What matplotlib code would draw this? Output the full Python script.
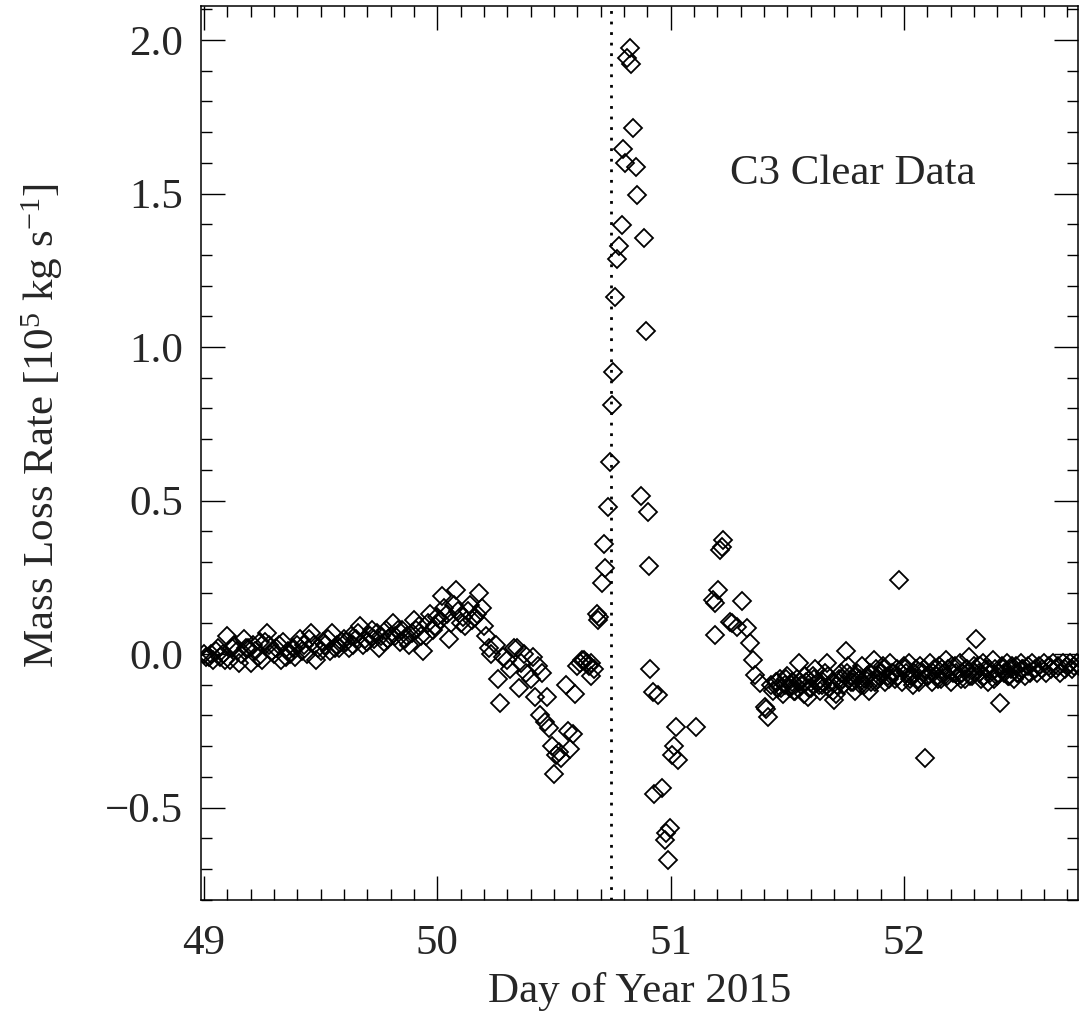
import matplotlib
matplotlib.use("Agg")
import matplotlib.pyplot as plt
from matplotlib.ticker import MultipleLocator

plt.rcParams['font.family'] = ['Liberation Serif', 'DejaVu Serif']
plt.rcParams['mathtext.fontset'] = 'custom'
plt.rcParams['mathtext.rm'] = 'Liberation Serif'
plt.rcParams['mathtext.it'] = 'Liberation Serif'

# ---- data (Day of Year 2015, mass loss rate in 1e5 kg/s) ----
day_pre = [49.00, 49.01, 49.03, 49.04, 49.05, 49.07, 49.08, 49.10, 49.11, 49.12,
           49.14, 49.15, 49.17, 49.18, 49.20, 49.21, 49.22, 49.24, 49.25, 49.27,
           49.28, 49.30, 49.31, 49.33, 49.34, 49.36, 49.37, 49.39, 49.40, 49.42,
           49.43, 49.45, 49.46, 49.48, 49.49, 49.51, 49.52, 49.54, 49.55, 49.57,
           49.58, 49.60, 49.61, 49.63, 49.64, 49.66, 49.67, 49.69, 49.70, 49.72,
           49.73, 49.75, 49.76, 49.78, 49.79, 49.81, 49.82, 49.84, 49.85, 49.87,
           49.88, 49.90, 49.91, 49.93, 49.94, 49.96, 49.97, 49.99, 50.00, 50.02,
           50.03, 50.05, 50.06, 50.08, 50.09, 50.11, 50.12, 50.14, 50.15, 50.17,
           50.18, 50.20]
rate_pre = [0.00, -0.01, 0.00, -0.02, 0.01, -0.01, 0.00, 0.06, -0.02, 0.02,
            0.01, -0.03, 0.05, 0.02, -0.03, 0.03, 0.01, 0.04, -0.02, 0.07,
            0.03, 0.00, 0.02, -0.02, 0.04, 0.01, 0.00, -0.01, 0.03, 0.01,
            0.03, 0.05, 0.07, -0.02, 0.02, 0.04, 0.03, 0.01, 0.07, 0.03,
            0.02, 0.05, 0.04, 0.06, 0.03, 0.07, 0.09, 0.05, 0.04, 0.08,
            0.05, 0.02, 0.06, 0.08, 0.05, 0.10, 0.06, 0.04, 0.08, 0.06,
            0.03, 0.11, 0.08, 0.06, 0.01, 0.10, 0.13, 0.09, 0.12, 0.19,
            0.15, 0.05, 0.10, 0.21, 0.14, 0.12, 0.09, 0.16, 0.11, 0.13,
            0.20, 0.09]

day_pre2 = [49.02, 49.06, 49.09, 49.13, 49.16, 49.19, 49.23, 49.26, 49.29, 49.32,
            49.35, 49.38, 49.41, 49.44, 49.47, 49.50, 49.53, 49.56, 49.59, 49.62,
            49.65, 49.68, 49.71, 49.74, 49.77, 49.80, 49.83, 49.86, 49.89, 49.92,
            49.95, 49.98, 50.01, 50.04, 50.07, 50.10, 50.13, 50.16, 50.19]
rate_pre2 = [-0.01, 0.02, -0.02, 0.03, 0.00, 0.02, -0.01, 0.04, 0.01, 0.03,
             -0.01, 0.02, 0.05, 0.00, 0.03, 0.01, 0.05, 0.02, 0.04, 0.02,
             0.05, 0.03, 0.06, 0.07, 0.04, 0.06, 0.08, 0.05, 0.07, 0.09,
             0.06, 0.08, 0.11, 0.13, 0.16, 0.10, 0.14, 0.12, 0.15]

day_dip = [50.21, 50.22, 50.23, 50.25, 50.26, 50.27, 50.28, 50.30, 50.31, 50.33,
           50.34, 50.35, 50.36, 50.37, 50.38, 50.40, 50.41, 50.42, 50.43, 50.44,
           50.45, 50.46, 50.47, 50.48, 50.49, 50.50, 50.51, 50.52, 50.53, 50.55,
           50.56, 50.57, 50.58, 50.59, 50.60, 50.61, 50.62, 50.63, 50.64, 50.65,
           50.66, 50.67, 50.66]
rate_dip = [0.06, 0.02, 0.00, 0.03, -0.08, -0.16, -0.01, -0.02, -0.05, 0.02,
            0.02, -0.11, -0.03, 0.00, -0.06, -0.08, -0.01, -0.14, -0.04, -0.20,
            -0.06, -0.22, -0.14, -0.24, -0.30, -0.39, -0.33, -0.32, -0.34, -0.10,
            -0.25, -0.31, -0.26, -0.13, -0.04, -0.03, -0.02, -0.02, -0.03, -0.04,
            -0.03, -0.05, -0.07]

day_spike = [50.683, 50.690, 50.695, 50.705, 50.714, 50.720, 50.733, 50.740, 50.747, 50.754,
             50.761, 50.771, 50.780, 50.790, 50.797, 50.804, 50.812, 50.826, 50.829, 50.837,
             50.852, 50.857, 50.872, 50.887, 50.895, 50.902, 50.907, 50.912, 50.923, 50.930,
             50.947, 50.962, 50.976, 50.980, 50.990, 50.997, 51.004, 51.016, 51.023, 51.033,
             51.109]
rate_spike = [0.13, 0.11, 0.12, 0.23, 0.36, 0.28, 0.48, 0.625, 0.81, 0.92,
              1.164, 1.287, 1.33, 1.398, 1.644, 1.598, 1.943, 1.974, 1.922, 1.715,
              1.588, 1.496, 0.515, 1.355, 1.051, 0.463, 0.287, -0.047, -0.123, -0.455,
              -0.133, -0.437, -0.605, -0.583, -0.67, -0.567, -0.328, -0.301, -0.236, -0.345,
              -0.236]

day_rec = [51.183, 51.190, 51.190, 51.205, 51.212, 51.218, 51.226, 51.255, 51.262, 51.283,
           51.305, 51.326, 51.340, 51.355, 51.362, 51.383, 51.405, 51.410, 51.419]
rate_rec = [0.176, 0.165, 0.062, 0.208, 0.338, 0.35, 0.371, 0.105, 0.10, 0.089,
            0.172, 0.085, 0.035, -0.02, -0.068, -0.095, -0.171, -0.18, -0.204]

day_post = [51.43, 51.44, 51.45, 51.46, 51.47, 51.48, 51.49, 51.50, 51.51, 51.52,
            51.53, 51.54, 51.55, 51.56, 51.57, 51.58, 51.59, 51.60, 51.61, 51.62,
            51.63, 51.64, 51.65, 51.66, 51.67, 51.68, 51.69, 51.70, 51.71, 51.72,
            51.73, 51.74, 51.75, 51.76, 51.77, 51.78, 51.79, 51.80, 51.81, 51.82,
            51.83, 51.84, 51.85, 51.86, 51.87, 51.88, 51.89, 51.90, 51.91, 51.92,
            51.93, 51.94, 51.95, 51.96, 51.97, 51.98, 51.99, 52.00, 52.01, 52.02,
            52.03, 52.04, 52.05, 52.06, 52.07, 52.08, 52.09, 52.10, 52.11, 52.12,
            52.13, 52.14, 52.15, 52.16, 52.17, 52.18, 52.19, 52.20, 52.21, 52.22,
            52.23, 52.24, 52.25, 52.26, 52.27, 52.28, 52.29, 52.30, 52.31, 52.32,
            52.33, 52.34, 52.35, 52.36, 52.37, 52.38, 52.39, 52.40, 52.41, 52.42,
            52.43, 52.44, 52.45, 52.46, 52.47, 52.48, 52.49, 52.50, 52.51, 52.52,
            52.53, 52.54, 52.55, 52.56, 52.57, 52.58, 52.59, 52.60, 52.61, 52.62,
            52.63, 52.64, 52.65, 52.66, 52.67, 52.68, 52.69, 52.70, 52.71, 52.72,
            52.73, 52.74, 52.75]
rate_post = [-0.10, -0.12, -0.09, -0.11, -0.08, -0.13, -0.10, -0.07, -0.11, -0.09,
             -0.12, -0.08, -0.03, -0.10, -0.13, -0.09, -0.14, -0.11, -0.07, -0.05,
             -0.09, -0.12, -0.10, -0.06, -0.03, -0.11, -0.09, -0.15, -0.13, -0.08,
             -0.06, -0.10, 0.01, -0.04, -0.07, -0.09, -0.12, -0.06, -0.08, -0.04,
             -0.10, -0.07, -0.12, -0.09, -0.02, -0.05, -0.08, -0.06, -0.04, -0.09,
             -0.07, -0.03, -0.06, -0.08, -0.05, 0.24, -0.09, -0.04, -0.06, -0.03,
             -0.07, -0.10, -0.05, -0.08, -0.04, -0.06, -0.34, -0.07, -0.03, -0.09,
             -0.05, -0.07, -0.04, -0.08, -0.06, -0.02, -0.05, -0.09, -0.06, -0.04,
             -0.07, -0.03, -0.06, -0.08, -0.05, -0.01, -0.07, -0.04, 0.05, -0.06,
             -0.08, -0.03, -0.05, -0.09, -0.06, -0.02, -0.05, -0.07, -0.16, -0.04,
             -0.06, -0.03, -0.07, -0.05, -0.08, -0.04, -0.06, -0.03, -0.05, -0.07,
             -0.04, -0.06, -0.03, -0.05, -0.06, -0.04, -0.05, -0.03, -0.06, -0.04,
             -0.05, -0.03, -0.05, -0.04, -0.06, -0.03, -0.05, -0.04, -0.03, -0.05,
             -0.04, -0.03, -0.04]

day_post2 = [51.455, 51.475, 51.495, 51.515, 51.535, 51.555, 51.575, 51.595, 51.615, 51.635,
             51.655, 51.675, 51.695, 51.715, 51.735, 51.755, 51.775, 51.795, 51.815, 51.835,
             51.855, 51.875, 51.895, 51.915, 51.935, 51.955, 51.975, 52.005, 52.025, 52.045,
             52.065, 52.085, 52.105, 52.125, 52.145, 52.165, 52.185, 52.205, 52.225, 52.245,
             52.265, 52.285, 52.305, 52.325, 52.345, 52.365, 52.385, 52.405, 52.425, 52.445,
             52.465, 52.485, 52.505]
rate_post2 = [-0.09, -0.11, -0.08, -0.10, -0.12, -0.09, -0.07, -0.11, -0.08, -0.10,
              -0.09, -0.07, -0.12, -0.10, -0.08, -0.06, -0.09, -0.07, -0.10, -0.08,
              -0.06, -0.09, -0.07, -0.05, -0.08, -0.06, -0.07, -0.05, -0.08, -0.06,
              -0.09, -0.05, -0.07, -0.06, -0.08, -0.05, -0.07, -0.04, -0.06, -0.08,
              -0.05, -0.07, -0.06, -0.04, -0.07, -0.05, -0.08, -0.06, -0.05, -0.07,
              -0.04, -0.06, -0.05]

event_day = 50.745
label_text = "C3 Clear Data"

days = day_pre + day_pre2 + day_dip + day_spike + day_rec + day_post + day_post2
rates = rate_pre + rate_pre2 + rate_dip + rate_spike + rate_rec + rate_post + rate_post2

TXT = '#262626'
FS = 31

fig = plt.figure(figsize=(10.79, 10.26), dpi=100)
ax = fig.add_axes([201 / 1079, 1 - 900 / 1026, (1078 - 201) / 1079, (900 - 6) / 1026])

ax.plot(days, rates, linestyle='none', marker='D', markersize=9.3,
        markerfacecolor='none', markeredgecolor='black', markeredgewidth=1.3)
ax.axvline(event_day, color='black', linewidth=2.0, linestyle=(0, (1, 2.8)))

ax.set_xlim(48.987, 52.746)
ax.set_ylim(-0.801, 2.111)

ax.xaxis.set_major_locator(MultipleLocator(1))
ax.xaxis.set_minor_locator(MultipleLocator(0.1))
ax.yaxis.set_major_locator(MultipleLocator(0.5))
ax.yaxis.set_minor_locator(MultipleLocator(0.1))
ax.tick_params(which='both', direction='in', top=True, right=True, width=1.0,
               labelsize=FS, colors='black', labelcolor=TXT)
ax.tick_params(which='major', length=17)
ax.tick_params(which='minor', length=8)
ax.tick_params(axis='x', which='major', pad=18)
ax.tick_params(axis='y', which='major', pad=13)
for s in ax.spines.values():
    s.set_linewidth(1.1)

ax.set_xlabel("Day of Year 2015", fontsize=FS, labelpad=6, color=TXT)
ax.set_ylabel(r"Mass Loss Rate [10$^{5}$ kg s$^{-1}$]", fontsize=FS, color=TXT)
ax.yaxis.set_label_coords(-0.155, 0.53)
ax.text(51.255, 1.565, label_text, fontsize=FS, ha='left', va='center', color=TXT)

fig.savefig("out.png", dpi=100)
